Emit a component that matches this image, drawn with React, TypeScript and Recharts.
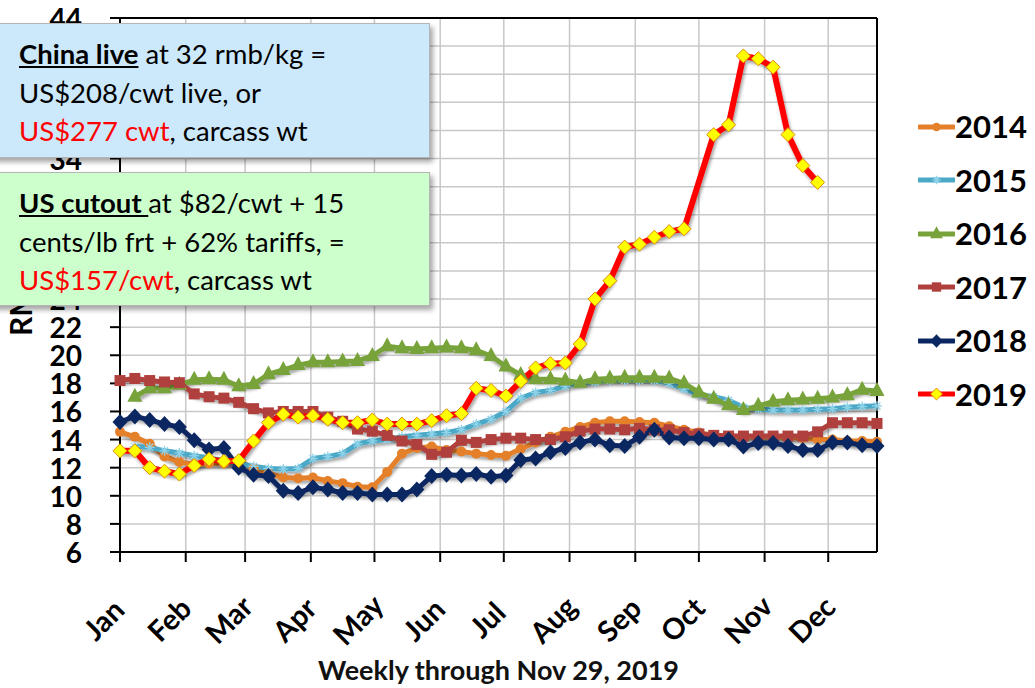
import React from 'react';
import { LineChart, Line, XAxis, YAxis, CartesianGrid, ReferenceLine } from 'recharts';

// ---- data (weekly, index 0 = first week of Jan) ----
const WEEKS: number[] = Array.from({ length: 52 }, (_, i) => i);
const MONTH_LABELS = ['Jan', 'Feb', 'Mar', 'Apr', 'May', 'Jun', 'Jul', 'Aug', 'Sep', 'Oct', 'Nov', 'Dec'];
const MONTH_START_DAYS = [0, 31, 59, 90, 120, 151, 181, 212, 243, 273, 304, 334];
const Y_TICKS = [6, 8, 10, 12, 14, 16, 18, 20, 22, 24, 26, 28, 30, 32, 34, 36, 38, 40, 42, 44];
// tick labels that sit entirely under the two annotation boxes (not visible in the reference)
const Y_TICKS_COVERED = [26, 28, 30, 32, 36, 38, 40, 42];

const y2014 = [14.55, 14.2, 13.7, 12.8, 12.4, 12.25, 12.3, 12.3, 12.5, 11.95, 11.6, 11.3, 11.25, 11.3, 11.05, 10.9, 10.65, 10.6, 11.7, 13.0, 13.4, 13.5, 13.25, 13.15, 13.0, 12.9, 12.85, 13.35, 13.8, 14.2, 14.55, 14.9, 15.2, 15.3, 15.3, 15.25, 15.2, 14.95, 14.7, 14.5, 14.3, 14.25, 14.2, 14.2, 14.2, 14.15, 14.1, 14.0, 14.0, 13.9, 13.9, 13.85];
const y2015 = [null, 13.5, 13.45, 13.2, 13.05, 12.85, 12.7, 12.5, 12.3, 12.1, 11.95, 11.9, 11.95, 12.65, 12.8, 13.0, 13.7, 13.9, 14.0, 14.2, 14.3, 14.4, 14.5, 14.7, 15.1, 15.45, 16.0, 16.95, 17.35, 17.5, 17.8, 18.05, 18.1, 18.2, 18.2, 18.2, 18.2, 18.0, 17.6, 17.2, 17.05, 16.8, 16.3, 16.15, 16.1, 16.1, 16.1, 16.15, 16.2, 16.3, 16.35, 16.4];
const y2016 = [null, 17.05, 17.65, 17.65, 17.9, 18.25, 18.3, 18.25, 17.8, 17.95, 18.65, 18.95, 19.3, 19.5, 19.5, 19.55, 19.6, 19.95, 20.65, 20.5, 20.45, 20.5, 20.55, 20.5, 20.35, 19.95, 19.2, 18.6, 18.3, 18.3, 18.2, 18.05, 18.3, 18.35, 18.4, 18.4, 18.4, 18.35, 18.0, 17.35, 16.9, 16.45, 16.1, 16.4, 16.7, 16.8, 16.85, 16.9, 17.0, 17.15, 17.55, 17.45];
const y2017 = [18.2, 18.35, 18.2, 18.1, 18.05, 17.25, 17.05, 16.95, 16.65, 16.2, 15.9, 16.0, 16.0, 16.0, 15.6, 15.3, 14.75, 14.6, 14.3, 13.9, 13.65, 12.95, 13.1, 13.95, 13.8, 14.0, 14.1, 14.1, 14.0, 14.0, 14.2, 14.6, 14.75, 14.75, 14.7, 14.8, 14.7, 14.7, 14.5, 14.4, 14.3, 14.25, 14.25, 14.25, 14.25, 14.25, 14.25, 14.55, 15.2, 15.2, 15.2, 15.15];
const y2018 = [15.25, 15.65, 15.4, 15.1, 14.9, 13.95, 13.3, 13.4, 12.0, 11.5, 11.4, 10.35, 10.2, 10.6, 10.45, 10.2, 10.2, 10.1, 10.1, 10.1, 10.45, 11.4, 11.5, 11.45, 11.55, 11.35, 11.45, 12.55, 12.65, 13.1, 13.4, 13.8, 14.0, 13.6, 13.55, 14.2, 14.7, 14.15, 14.1, 14.1, 14.0, 14.0, 13.5, 13.75, 13.75, 13.55, 13.25, 13.25, 13.8, 13.8, 13.6, 13.55];
const y2019 = [13.2, 13.2, 12.0, 11.75, 11.55, 12.15, 12.6, 12.45, 12.5, 13.9, 15.2, 15.8, 15.6, 15.7, 15.45, 15.2, 15.2, 15.4, 15.1, 15.1, 15.1, 15.35, 15.7, 15.85, 17.65, 17.5, 17.1, 18.15, 19.1, 19.4, 19.45, 20.8, 24.0, 25.3, 27.7, 27.9, 28.4, 28.8, 29.0, null, 35.7, 36.4, 41.3, 41.1, 40.5, 35.7, 33.5, 32.3];

const SERIES_YEARS = ['2014', '2015', '2016', '2017', '2018', '2019'];
const SERIES_VALUES = [y2014, y2015, y2016, y2017, y2018, y2019];

const data = WEEKS.map((w, i) => {
  const row: any = { day: w * 7 };
  SERIES_YEARS.forEach((yr, k) => {
    const v = SERIES_VALUES[k][i];
    row['y' + yr] = v === undefined ? null : v;
  });
  return row;
});

// ---- styles ----
const FONT = 'Lato, "Open Sans", sans-serif';
const STYLE: Record<string, { color: string; width: number; marker: string; mFill: string; mStroke?: string }> = {
  '2014': { color: '#E5802A', width: 5, marker: 'circle', mFill: '#E5802A' },
  '2015': { color: '#4BA8C6', width: 5, marker: 'star', mFill: '#8FD3EA' },
  '2016': { color: '#78A33A', width: 5, marker: 'triangle', mFill: '#78A33A' },
  '2017': { color: '#B0403D', width: 5, marker: 'square', mFill: '#B0403D' },
  '2018': { color: '#0A2761', width: 5, marker: 'diamond', mFill: '#0A2761' },
  '2019': { color: '#FF0000', width: 6, marker: 'ydiamond', mFill: '#FFFF00', mStroke: '#E08A00' },
};

function markerShape(kind: string, cx: number, cy: number, fill: string, stroke?: string, scale = 1) {
  const s = scale;
  switch (kind) {
    case 'circle':
      return <circle cx={cx} cy={cy} r={5 * s} fill={fill} />;
    case 'star':
      return (
        <g stroke={fill} strokeWidth={1.3}>
          <line x1={cx - 5 * s} y1={cy} x2={cx + 5 * s} y2={cy} />
          <line x1={cx} y1={cy - 5 * s} x2={cx} y2={cy + 5 * s} />
          <line x1={cx - 3.5 * s} y1={cy - 3.5 * s} x2={cx + 3.5 * s} y2={cy + 3.5 * s} />
          <line x1={cx - 3.5 * s} y1={cy + 3.5 * s} x2={cx + 3.5 * s} y2={cy - 3.5 * s} />
        </g>
      );
    case 'triangle':
      return <polygon points={`${cx},${cy - 9 * s} ${cx - 7.5 * s},${cy + 5 * s} ${cx + 7.5 * s},${cy + 5 * s}`} fill={fill} />;
    case 'square':
      return <rect x={cx - 5.5 * s} y={cy - 5.5 * s} width={11 * s} height={11 * s} fill={fill} />;
    case 'diamond':
      return <polygon points={`${cx},${cy - 8 * s} ${cx + 7.5 * s},${cy} ${cx},${cy + 8 * s} ${cx - 7.5 * s},${cy}`} fill={fill} />;
    case 'ydiamond':
      return (
        <polygon
          points={`${cx},${cy - 7 * s} ${cx + 7 * s},${cy} ${cx},${cy + 7 * s} ${cx - 7 * s},${cy}`}
          fill={fill}
          stroke={stroke}
          strokeWidth={1}
        />
      );
    default:
      return null;
  }
}

const makeDot = (yr: string) => (props: any) => {
  const { cx, cy, index, value } = props;
  if (cx == null || cy == null || value == null || Number.isNaN(cy)) return <g key={`d${yr}-${index}`} />;
  const st = STYLE[yr];
  return <g key={`d${yr}-${index}`}>{markerShape(st.marker, cx, cy, st.mFill, st.mStroke)}</g>;
};

const MonthTick = (props: any) => {
  const { x, y, payload } = props;
  const idx = MONTH_START_DAYS.indexOf(payload.value);
  const ax = x - 17;
  const ay = y + 57;
  return (
    <text
      x={ax}
      y={ay}
      transform={`rotate(-45 ${ax} ${ay})`}
      textAnchor="middle"
      dominantBaseline="central"
      fontFamily={FONT}
      fontWeight={700}
      fontSize={29}
      fill="#000"
    >
      {MONTH_LABELS[idx]}
    </text>
  );
};

const ValueTick = (props: any) => {
  const { x, y, payload } = props;
  if (Y_TICKS_COVERED.includes(payload.value)) return <g />;
  return (
    <text
      x={x}
      y={y}
      textAnchor="end"
      dominantBaseline="central"
      fontFamily={FONT}
      fontWeight={700}
      fontSize={28}
      fill="#000"
    >
      {payload.value}
    </text>
  );
};

const boxBase: React.CSSProperties = {
  position: 'absolute',
  left: -10,
  width: 440,
  boxSizing: 'border-box',
  paddingLeft: 28,
  paddingTop: 11,
  fontFamily: FONT,
  fontSize: 27.5,
  lineHeight: '38.5px',
  color: '#000',
  border: '1px solid #b5b5b5',
  boxShadow: '3px 4px 5px rgba(0,0,0,0.35)',
  whiteSpace: 'nowrap',
};

export default function App() {
  return (
    <div style={{ position: 'absolute', left: 0, top: 0, width: 1035, height: 688, background: '#fff', overflow: 'hidden' }}>
      <LineChart width={1035} height={688} data={data} margin={{ top: 18, right: 158, bottom: 0, left: 60 }}>
        <defs>
          <filter id="lshadow" x="-5%" y="-5%" width="110%" height="120%">
            <feDropShadow dx="1.5" dy="3" stdDeviation="1.5" floodColor="#000" floodOpacity="0.35" />
          </filter>
        </defs>
        <CartesianGrid stroke="#c8c8c8" strokeWidth={1.5} />
        <XAxis
          dataKey="day"
          type="number"
          domain={[0, 357]}
          ticks={MONTH_START_DAYS}
          interval={0}
          height={136}
          tickSize={10}
          tickMargin={0}
          tick={<MonthTick />}
          axisLine={{ stroke: '#000', strokeWidth: 2 }}
          tickLine={{ stroke: '#000', strokeWidth: 2 }}
          label={{
            value: 'Weekly through Nov 29, 2019',
            position: 'insideBottom',
            offset: 8,
            fill: '#111',
            fontFamily: FONT,
            fontWeight: 700,
            fontSize: 27,
          }}
        />
        <YAxis
          type="number"
          domain={[6, 44]}
          ticks={Y_TICKS}
          interval={0}
          width={60}
          tickSize={10}
          tickMargin={28}
          tick={<ValueTick />}
          axisLine={{ stroke: '#000', strokeWidth: 2 }}
          tickLine={{ stroke: '#000', strokeWidth: 2 }}
          label={{
            content: () => (
              <text
                x={32}
                y={336}
                transform="rotate(-90 32 336)"
                textAnchor="start"
                fontFamily={FONT}
                fontWeight={700}
                fontSize={30}
                fill="#000"
              >
                RMB/kg
              </text>
            ),
          }}
        />
        <ReferenceLine y={44} stroke="#000" strokeWidth={2} />
        <ReferenceLine x={357} stroke="#000" strokeWidth={2} />
        {SERIES_YEARS.map((yr) => (
          <Line
            key={yr}
            type="linear"
            dataKey={'y' + yr}
            name={yr}
            stroke={STYLE[yr].color}
            strokeWidth={STYLE[yr].width}
            strokeLinejoin="round"
            filter="url(#lshadow)"
            dot={makeDot(yr)}
            activeDot={false}
            connectNulls
            isAnimationActive={false}
          />
        ))}
      </LineChart>

      {/* legend */}
      <div style={{ position: 'absolute', left: 918, top: 100, width: 117 }}>
        {SERIES_YEARS.map((yr) => {
          const st = STYLE[yr];
          return (
            <div key={yr} style={{ display: 'flex', alignItems: 'center', height: 53.5 }}>
              <svg width={37} height={20} style={{ display: 'block' }}>
                <line x1={1} y1={10} x2={36} y2={10} stroke={st.color} strokeWidth={5} strokeLinecap="round" />
                {markerShape(st.marker, 18.5, 10, st.mFill, st.mStroke, 0.85)}
              </svg>
              <span style={{ fontFamily: FONT, fontWeight: 700, fontSize: 31, color: '#000', lineHeight: '31px' }}>{yr}</span>
            </div>
          );
        })}
      </div>

      {/* annotation boxes */}
      <div style={{ ...boxBase, top: 23, height: 135, background: '#CCE8FB' }}>
        <div>
          <span style={{ fontWeight: 700, textDecoration: 'underline' }}>China live</span> at 32 rmb/kg =
        </div>
        <div>US$208/cwt live, or</div>
        <div>
          <span style={{ color: '#FF0000' }}>US$277 cwt</span>, carcass wt
        </div>
      </div>
      <div style={{ ...boxBase, top: 172, height: 134, background: '#CCFFCC' }}>
        <div>
          <span style={{ fontWeight: 700, textDecoration: 'underline', whiteSpace: 'pre' }}>US cutout </span>at $82/cwt + 15
        </div>
        <div>cents/lb frt + 62% tariffs, =</div>
        <div>
          <span style={{ color: '#FF0000' }}>US$157/cwt</span>, carcass wt
        </div>
      </div>
    </div>
  );
}
